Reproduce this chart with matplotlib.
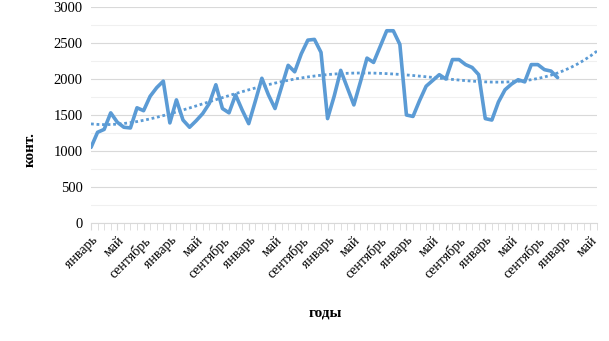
"""Monthly container counts with polynomial trend (Excel-style line chart)."""

import numpy as np
import matplotlib
matplotlib.use("Agg")
import matplotlib.pyplot as plt
from matplotlib.ticker import MultipleLocator

# monthly values, six years (January of year 1 .. December of year 6)
containers = [
    1050, 1260, 1300, 1530, 1400, 1330, 1320, 1600, 1560, 1760, 1880, 1970,
    1390, 1710, 1430, 1330, 1420, 1520, 1660, 1920, 1590, 1530, 1780, 1570,
    1380, 1690, 2010, 1780, 1590, 1890, 2190, 2100, 2350, 2540, 2550, 2370,
    1450, 1760, 2120, 1880, 1640, 1960, 2290, 2230, 2450, 2670, 2670, 2480,
    1500, 1480, 1700, 1900, 1980, 2060, 2000, 2270, 2270, 2200, 2160, 2060,
    1450, 1430, 1680, 1850, 1930, 1990, 1960, 2200, 2200, 2130, 2110, 2020,
]
forecast_periods = 6
trend_degree = 4

month_names = ["январь", "февраль", "март", "апрель", "май", "июнь",
               "июль", "август", "сентябрь", "октябрь", "ноябрь", "декабрь"]
label_step = 4

y_label = "конт."
x_label = "годы"

blue = "#5B9BD5"
plt.rcParams["font.family"] = ["Liberation Serif", "DejaVu Serif"]

n_total = len(containers) + forecast_periods
idx = np.arange(len(containers))
idx_all = np.arange(n_total)
categories = [month_names[i % 12] for i in idx_all]

# Excel polynomial trendline, fitted on the data and carried forward
coef = np.polyfit(idx / 10.0, containers, trend_degree)
trend = np.polyval(coef, idx_all / 10.0)

fig = plt.figure(figsize=(6.09, 3.41), dpi=100)
ax = fig.add_axes([91 / 609, 118 / 341, 506 / 609, 216 / 341])

ax.plot(idx, containers, color=blue, lw=2.6, solid_joinstyle="round",
        solid_capstyle="round", zorder=3)
ax.plot(idx_all, trend, color=blue, lw=2.0, linestyle=(0, (1, 1)),
        dash_capstyle="butt", zorder=2)

ax.set_xlim(0, n_total - 1)
ax.set_ylim(0, 3000)
ax.yaxis.set_major_locator(MultipleLocator(500))
ax.yaxis.set_minor_locator(MultipleLocator(250))
ax.grid(axis="y", which="major", color="#D9D9D9", lw=0.8)
ax.grid(axis="y", which="minor", color="#F0F0F0", lw=0.8)
ax.set_axisbelow(True)

ax.set_xticks(idx_all, minor=True)
ax.set_xticks(idx_all[::label_step])
ax.set_xticklabels(categories[::label_step], rotation=45, ha="right",
                   rotation_mode="anchor", fontsize=10)
ax.tick_params(axis="x", which="both", length=5, color="#D9D9D9", pad=3)
ax.tick_params(axis="y", which="both", length=0, labelsize=10.5, pad=6)

for side in ("top", "right", "left"):
    ax.spines[side].set_visible(False)
ax.spines["bottom"].set_color("#D9D9D9")

fig.text(30 / 609, 1 - 150 / 341, y_label, rotation=90, ha="center",
         va="center", fontsize=11, fontweight="bold")
fig.text(325 / 609, 1 - 313 / 341, x_label, ha="center", va="center",
         fontsize=11, fontweight="bold")

plt.savefig("out.png", dpi=100)
